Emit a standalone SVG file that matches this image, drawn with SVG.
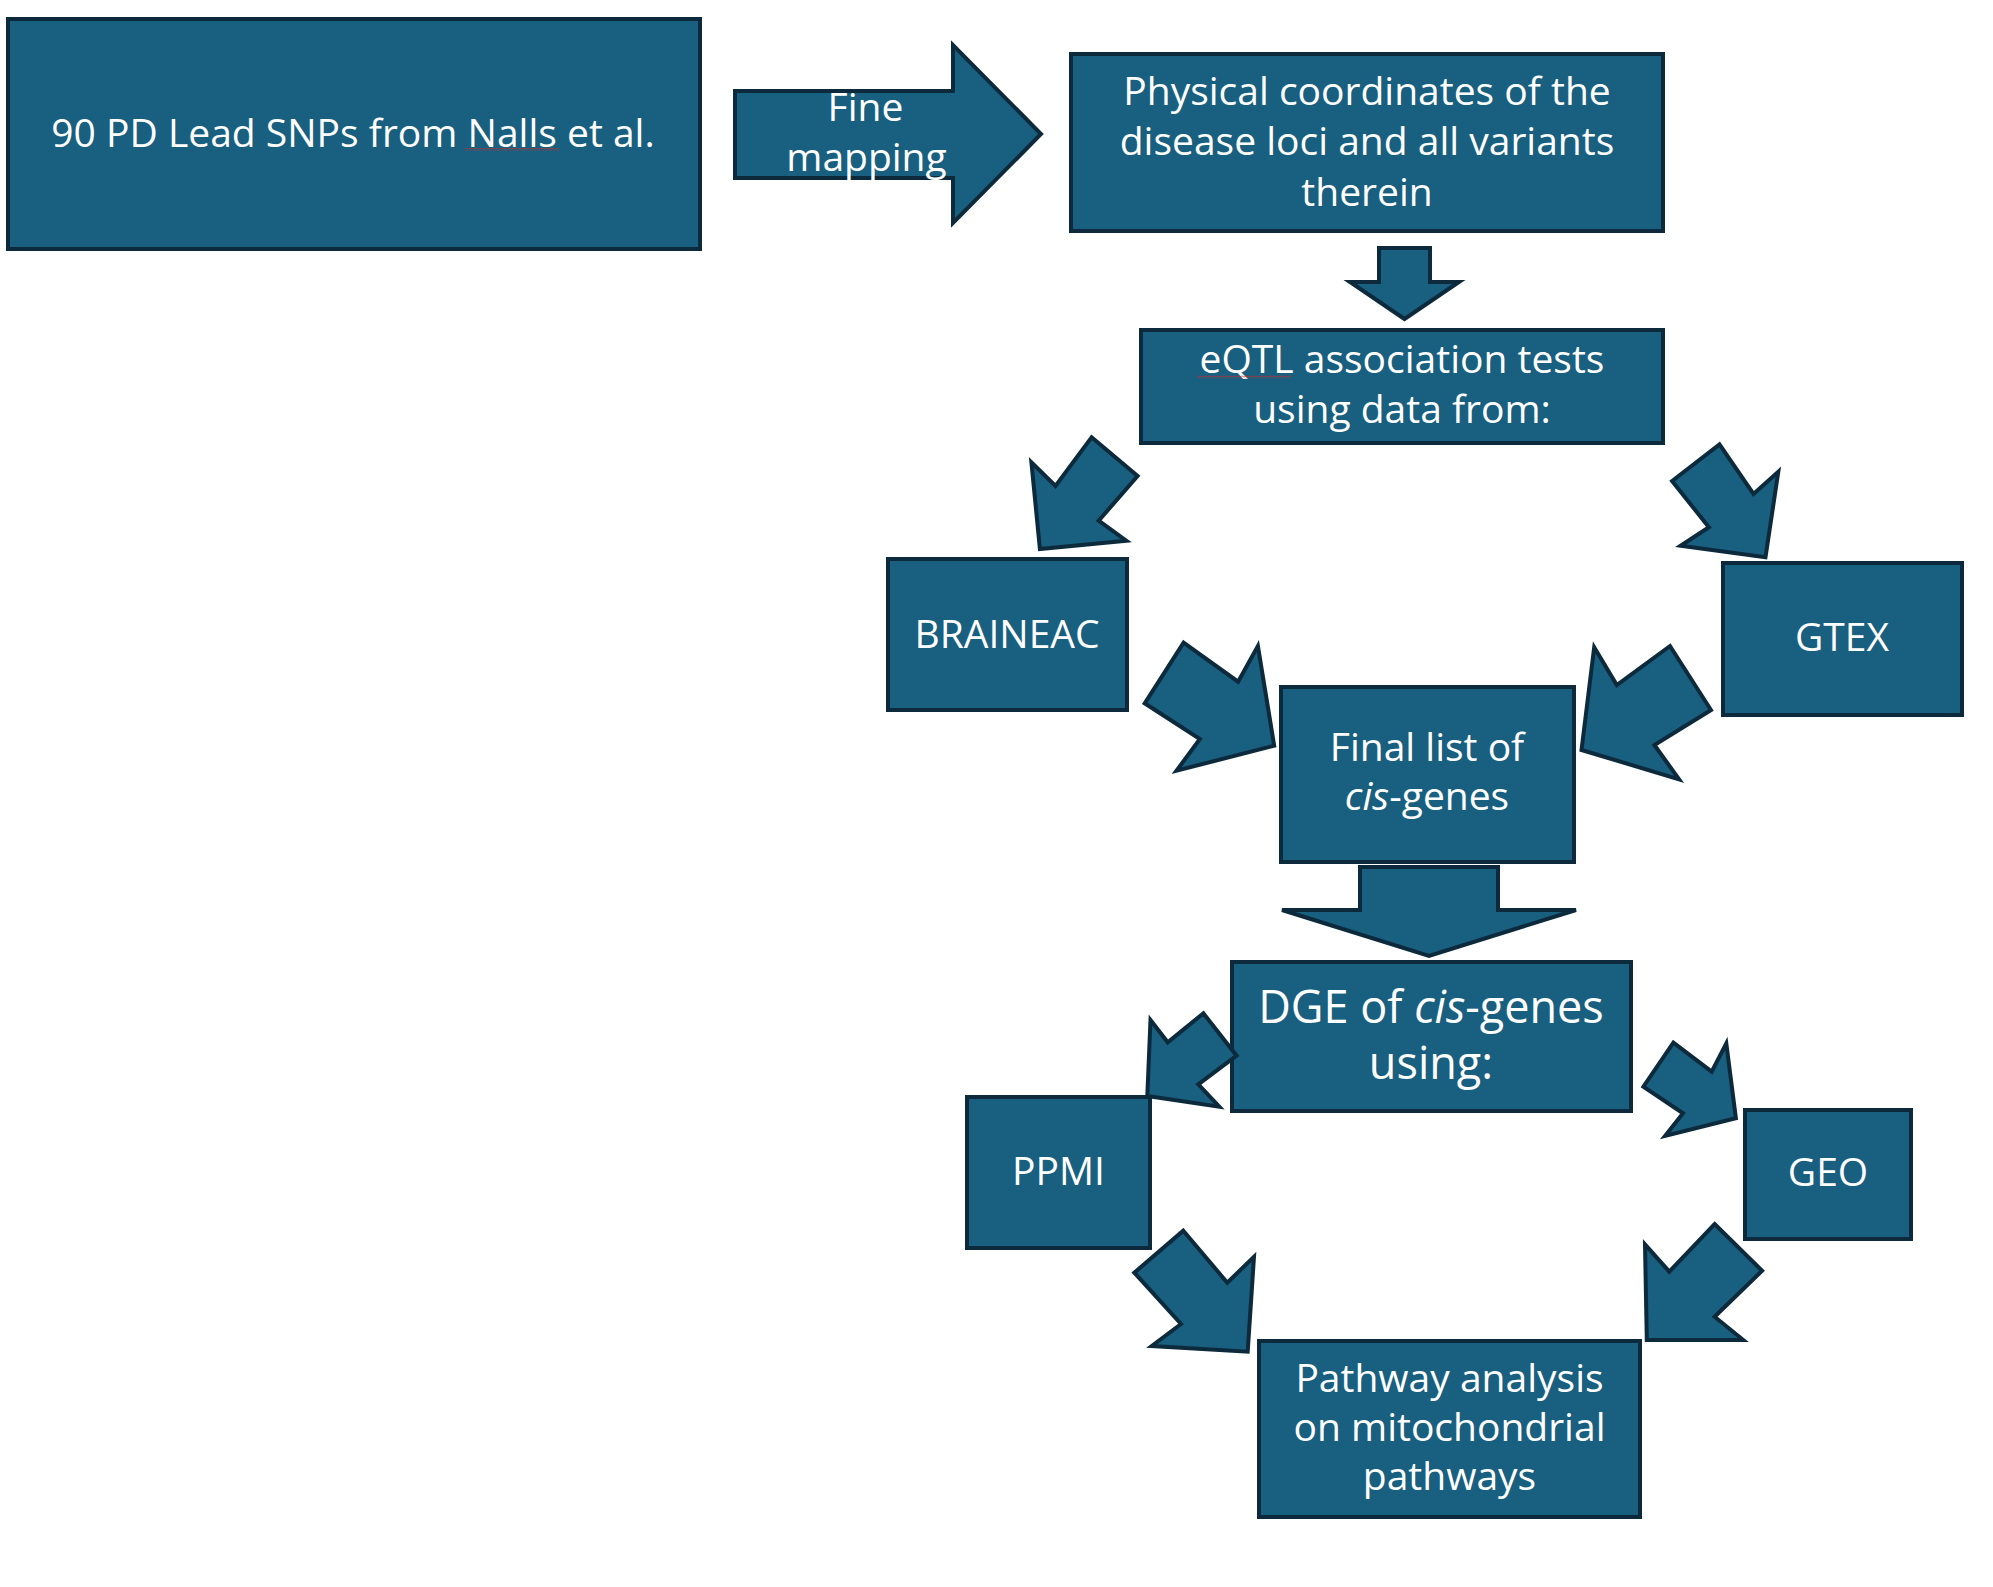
<svg xmlns="http://www.w3.org/2000/svg" width="1993" height="1587" viewBox="0 0 1993 1587">
  <defs>
    <style>
      .box { fill: #185f80; stroke: #0c2a3b; stroke-width: 4; }
      .arr { fill: #185f80; stroke: #0c2a3b; stroke-width: 4; stroke-linejoin: miter; }
      .t { font-family: "Open Sans", "Noto Sans", sans-serif; font-size: 39px; fill: #ffffff; text-anchor: middle; }
      .big { font-size: 45px; }
      .i { font-style: italic; }
    </style>
    <pattern id="squig" width="4" height="3" patternUnits="userSpaceOnUse">
      <path d="M0,2.5 L2,0.5 L4,2.5" fill="none" stroke="#d42a2a" stroke-width="1"/>
    </pattern>
  </defs>
  <rect width="1993" height="1587" fill="#ffffff"/>

  <g id="nodes">
    <g id="n-snps">
      <rect class="box" x="8" y="19" width="692" height="230"/>
      <text class="t" x="353" y="147">90 PD Lead SNPs from Nalls et al.</text>
      <rect x="465" y="148" width="94" height="3" fill="url(#squig)"/>
    </g>
    <g id="n-coords">
      <rect class="box" x="1071" y="54" width="592" height="177"/>
      <text class="t" x="1367" y="105">Physical coordinates of the</text>
      <text class="t" x="1367" y="155">disease loci and all variants</text>
      <text class="t" x="1367" y="205.5">therein</text>
    </g>
    <g id="n-eqtl">
      <rect class="box" x="1141" y="330" width="522" height="113"/>
      <text class="t" x="1402" y="373">eQTL association tests</text>
      <text class="t" x="1402" y="423">using data from:</text>
      <rect x="1197" y="375.5" width="94" height="3" fill="url(#squig)"/>
    </g>
    <g id="n-braineac">
      <rect class="box" x="888" y="559" width="239" height="151"/>
      <text class="t" x="1007" y="647.5">BRAINEAC</text>
    </g>
    <g id="n-gtex">
      <rect class="box" x="1723" y="563" width="239" height="152"/>
      <text class="t" x="1842" y="651">GTEX</text>
    </g>
    <g id="n-final">
      <rect class="box" x="1281" y="687" width="293" height="175"/>
      <text class="t" x="1427" y="761">Final list of</text>
      <text class="t" x="1427" y="810"><tspan class="i">cis</tspan>-genes</text>
    </g>
    <g id="n-dge">
      <rect class="box" x="1232" y="962" width="399" height="149"/>
      <text class="t big" x="1431" y="1022.5">DGE of <tspan class="i">cis</tspan>-genes</text>
      <text class="t big" x="1431" y="1079">using:</text>
    </g>
    <g id="n-ppmi">
      <rect class="box" x="967" y="1097" width="183" height="151"/>
      <text class="t" x="1058.5" y="1185">PPMI</text>
    </g>
    <g id="n-geo">
      <rect class="box" x="1745" y="1110" width="166" height="129"/>
      <text class="t" x="1828" y="1186">GEO</text>
    </g>
    <g id="n-pathway">
      <rect class="box" x="1259" y="1341" width="381" height="176"/>
      <text class="t" x="1449.5" y="1391.5">Pathway analysis</text>
      <text class="t" x="1449.5" y="1440.5">on mitochondrial</text>
      <text class="t" x="1449.5" y="1490">pathways</text>
    </g>
  </g>

  <g id="connectors">
    <g id="c-finemap">
      <polygon class="arr" points="735,91 953,91 953,45 1041,134 953,223 953,178 735,178"/>
      <text class="t" x="865.5" y="121">Fine</text>
      <text class="t" x="866.5" y="171">mapping</text>
    </g>
    <polygon id="c-coords-eqtl" class="arr" points="1379,248 1430,248 1430,282 1459,282 1404.5,319 1350,282 1379,282"/>
    <polygon id="c-eqtl-braineac" class="arr" points="1091.6,437.3 1137.6,476 1098.7,520.7 1126.3,540.7 1039.9,549 1031.4,462.3 1055.5,486"/>
    <polygon id="c-eqtl-gtex" class="arr" points="1719.5,444.3 1753.5,494 1778.3,471.7 1765.5,557.3 1680.6,545.7 1708.9,527.3 1672.1,481"/>
    <polygon id="c-braineac-final" class="arr" points="1183.6,642.7 1238.1,681.7 1257.9,646 1274.2,745.7 1176.5,770.7 1199.9,739 1144.7,703.3"/>
    <polygon id="c-gtex-final" class="arr" points="1594.2,647.3 1616.8,685 1670,646 1711,710 1654.4,745 1679.1,779.3 1581.5,750"/>
    <polygon id="c-final-dge" class="arr" points="1360,867 1498,867 1498,910 1576,910 1429,956 1282,910 1360,910"/>
    <polygon id="c-dge-ppmi" class="arr" points="1150.5,1020 1167.7,1042.3 1203.4,1013.3 1236.6,1055.7 1198.3,1084.3 1219.3,1106.7 1147.3,1096"/>
    <polygon id="c-dge-geo" class="arr" points="1673.4,1042.7 1711.7,1071.7 1726.3,1043.3 1735.9,1118.3 1665.1,1136 1683,1113.3 1643.4,1086.7"/>
    <polygon id="c-ppmi-pathway" class="arr" points="1183.3,1230.7 1227.3,1282.7 1254,1256.7 1247.7,1351.7 1151.7,1346 1181,1324 1134.3,1272.7"/>
    <polygon id="c-geo-pathway" class="arr" points="1714.6,1224 1762.1,1270.7 1714.6,1316.7 1743.2,1340 1646.8,1340 1645,1244.3 1669.3,1271.7"/>
  </g>
</svg>
